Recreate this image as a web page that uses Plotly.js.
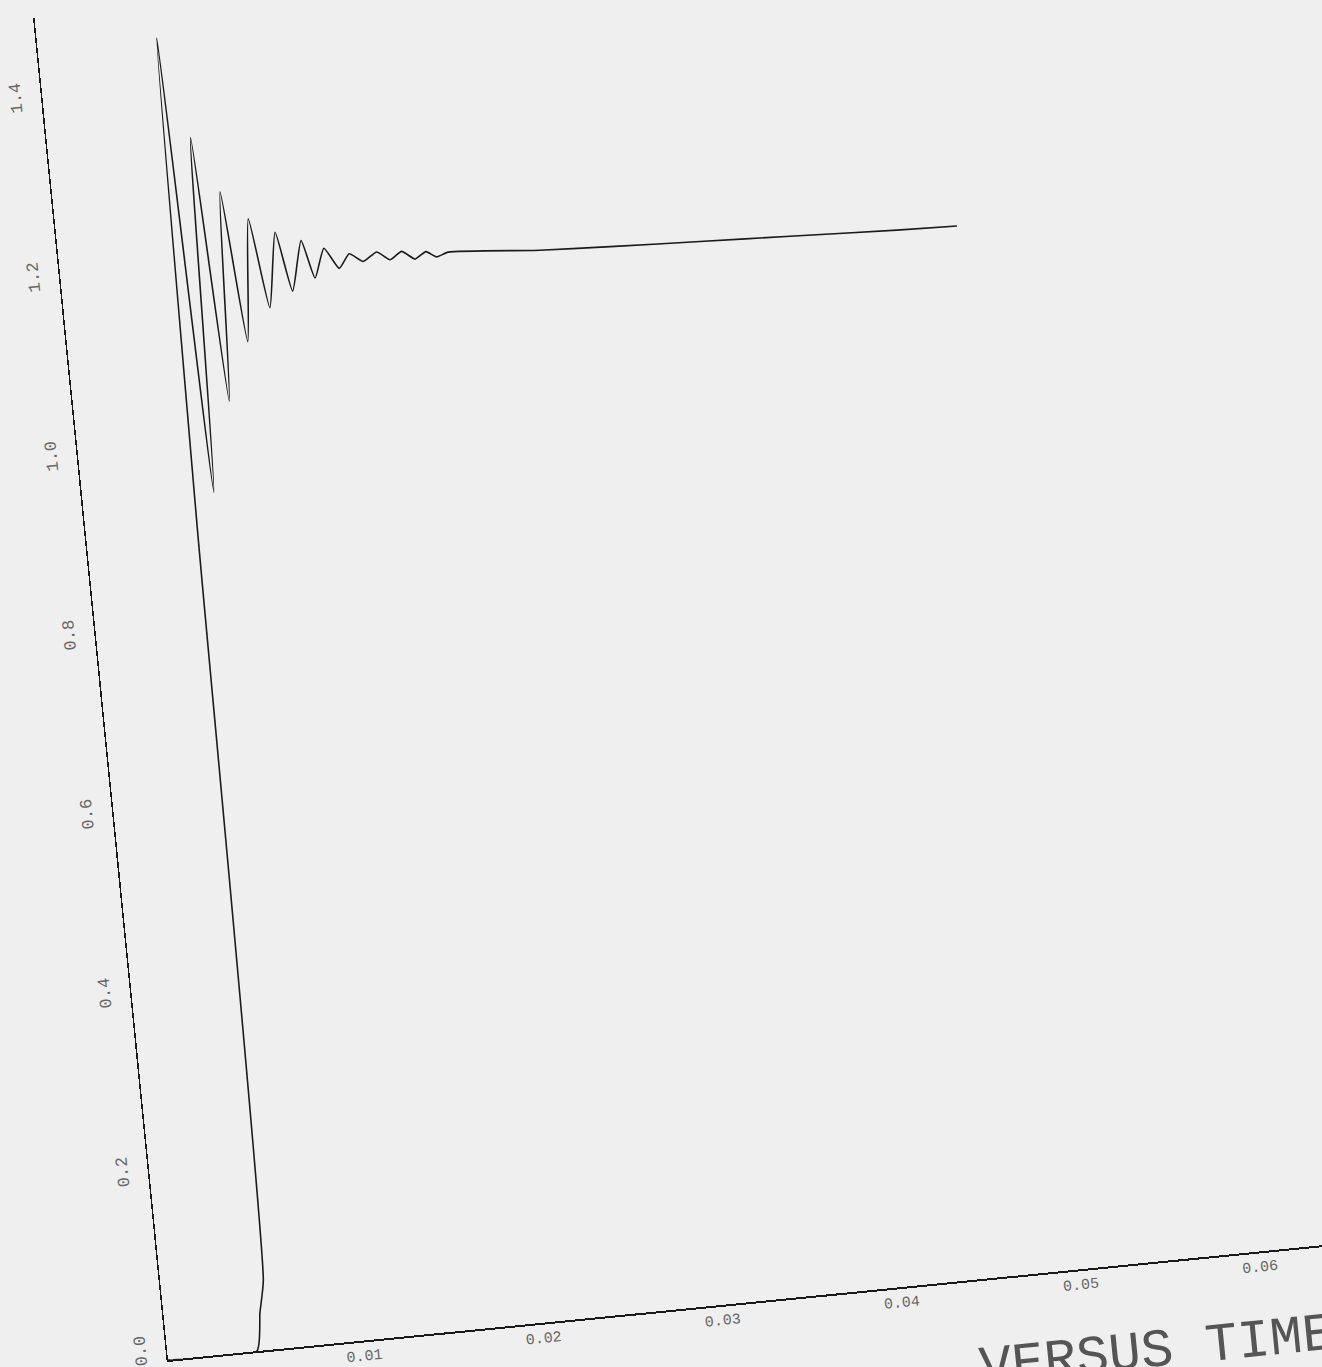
<!DOCTYPE html>
<html>
<head>
<meta charset="utf-8">
<script src="https://cdn.plot.ly/plotly-3.0.1.min.js"></script>
<style>
html, body { margin:0; padding:0; width:1322px; height:1367px; overflow:hidden; background:#efefef; }
#chart { position:absolute; left:88px; top:-9px; width:1540px; height:1489px;
         transform-origin:80px 1369px; transform:rotate(-5.68deg); }
</style>
</head>
<body>
<div id="chart"></div>
<script>
// Time (s) and response values
const time = [0, 0.00496, 0.00534, 0.00571, 0.00620, 0.00665, 0.00731, 0.00797, 0.00866, 0.00930,
  0.01001, 0.01071, 0.01142, 0.01212, 0.01277, 0.01351, 0.01408, 0.01473, 0.01547, 0.01610,
  0.01683, 0.01763, 0.01832, 0.01901, 0.01971, 0.02035, 0.02092, 0.02158, 0.02667, 0.03083,
  0.03556, 0.04056, 0.04651, 0.04985];
const response = [0, 0, 0.042, 0.078, 0.927, 1.464, 0.955, 1.350, 1.054, 1.287,
  1.118, 1.254, 1.153, 1.236, 1.169, 1.224, 1.181, 1.213, 1.189, 1.204,
  1.194, 1.203, 1.193, 1.201, 1.191, 1.198, 1.191, 1.195, 1.187, 1.183,
  1.179, 1.175, 1.170, 1.168];

const xTickVals = [0, 0.01, 0.02, 0.03, 0.04, 0.05, 0.06, 0.07, 0.08];
const xTickText = ["0.00", "0.01", "0.02", "0.03", "0.04", "0.05", "0.06", "0.07", "0.08"];
const yTickVals = [0, 0.2, 0.4, 0.6, 0.8, 1.0, 1.2, 1.4];
const yTickText = ["0.0", "0.2", "0.4", "0.6", "0.8", "1.0", "1.2", "1.4"];
const titleText = "VERSUS TIME";

const trace = {
  x: time, y: response, type: 'scatter', mode: 'lines',
  line: { color: '#1a1a1a', width: 1.6, shape: 'spline', smoothing: 0.5 },
  hoverinfo: 'skip', showlegend: false
};

const layout = {
  width: 1540, height: 1489,
  margin: { l: 80, r: 20, t: 20, b: 120 },
  paper_bgcolor: 'rgba(0,0,0,0)', plot_bgcolor: 'rgba(0,0,0,0)',
  font: { family: 'Liberation Mono, DejaVu Sans Mono, monospace', color: '#666', size: 15 },
  xaxis: {
    range: [0, 0.08], showgrid: false, zeroline: false,
    showline: true, linecolor: '#1a1a1a', linewidth: 2,
    tickmode: 'array', tickvals: xTickVals, ticktext: xTickText,
    ticks: '', ticklabelstandoff: 0, ticklabelshift: 16,
    tickfont: { size: 15, color: '#666' }
  },
  yaxis: {
    range: [0, 1.5], showgrid: false, zeroline: false,
    showline: true, linecolor: '#1a1a1a', linewidth: 1.5,
    tickmode: 'array', tickvals: yTickVals, ticktext: yTickText,
    ticks: '', tickangle: -90, ticklabelstandoff: 13, ticklabelshift: -9,
    tickfont: { size: 17, color: '#666' }
  },
  annotations: [{
    text: titleText, xref: 'x', yref: 'paper', x: 0.0447, y: -0.0422,
    xanchor: 'left', yanchor: 'top', showarrow: false,
    font: { family: 'Liberation Mono, DejaVu Sans Mono, monospace', size: 54, color: '#555' }
  }]
};

Plotly.newPlot('chart', [trace], layout, { staticPlot: true, displayModeBar: false });
</script>
</body>
</html>
